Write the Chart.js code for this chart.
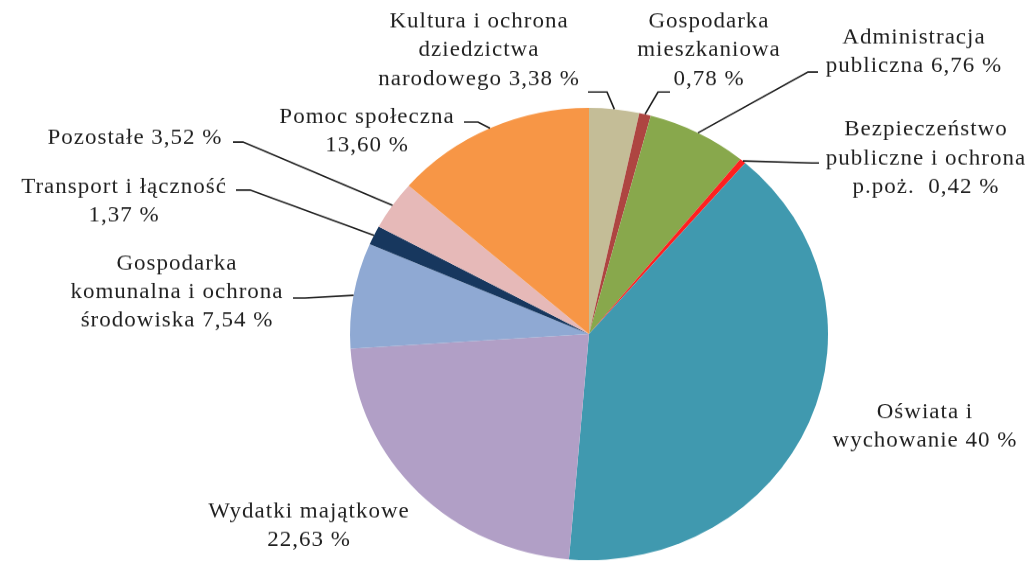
<!DOCTYPE html>
<html>
<head>
<meta charset="utf-8">
<script src="https://cdn.jsdelivr.net/npm/chart.js@4"></script>
<style>
    html, body { margin: 0; padding: 0; background: #ffffff; overflow: hidden; }
</style>
</head>
<body>
<canvas id="budget-chart" width="1034" height="594" style="display:block;width:1034px;height:562px"></canvas>
<script>
// Struktura wydatków budżetu (%)
var categories = [
    'Kultura i ochrona dziedzictwa narodowego',
    'Gospodarka mieszkaniowa',
    'Administracja publiczna',
    'Bezpieczeństwo publiczne i ochrona p.poż.',
    'Oświata i wychowanie',
    'Wydatki majątkowe',
    'Gospodarka komunalna i ochrona środowiska',
    'Transport i łączność',
    'Pozostałe',
    'Pomoc społeczna'
]
var shares = [3.38, 0.78, 6.76, 0.42, 40, 22.63, 7.54, 1.37, 3.52, 13.60]
var sliceColors = [
    '#C4BD97', '#AE4541', '#88A84C', '#FF2020', '#4099AF',
    '#B19FC6', '#8FA9D3', '#17375E', '#E6B9B8', '#F79646'
]
// label text as printed, line by line
var labelLines = [
    ['Kultura i ochrona', 'dziedzictwa', 'narodowego 3,38 %'],
    ['Gospodarka', 'mieszkaniowa', '0,78 %'],
    ['Administracja', 'publiczna 6,76 %'],
    ['Bezpieczeństwo', 'publiczne i ochrona', 'p.poż.  0,42 %'],
    ['Oświata i', 'wychowanie 40 %'],
    ['Wydatki majątkowe', '22,63 %'],
    ['Gospodarka', 'komunalna i ochrona', 'środowiska 7,54 %'],
    ['Transport i łączność', '1,37 %'],
    ['Pozostałe 3,52 %'],
    ['Pomoc społeczna', '13,60 %']
]

// the original picture is squashed vertically, so is ours
var SY = 0.946
var pieCx = 589, pieCy = 334 / SY, pieR = 239

// where each label sits (picture px) and where its leader starts / bends
var labelLayout = [
    { x: 479, y: 22,  tail: [588, 92],  knee: [607, 92] },
    { x: 709, y: 22,  tail: [670, 92],  knee: [658, 92] },
    { x: 914, y: 38,  tail: [818, 72],  knee: [808, 72] },
    { x: 926, y: 130, tail: [819, 163], knee: [812, 163] },
    { x: 925, y: 412 },
    { x: 309, y: 512 },
    { x: 177, y: 264, tail: [293, 298], knee: [305, 298] },
    { x: 124, y: 187, tail: [236, 190], knee: [250, 190] },
    { x: 135, y: 138, tail: [233, 142], knee: [243, 142] },
    { x: 367, y: 117, tail: [464, 122], knee: [478, 122] }
]

const pieLabels = {
    id: 'pieLabels',
    afterDatasetsDraw(chart) {
        const ctx = chart.ctx
        const meta = chart.getDatasetMeta(0)
        ctx.save()
        ctx.strokeStyle = '#1c1c1c'
        ctx.lineWidth = 1.6
        ctx.fillStyle = '#1f1f1f'
        ctx.font = '23px "Liberation Serif", "DejaVu Serif", serif'
        ctx.letterSpacing = '1px'
        ctx.textAlign = 'center'
        ctx.textBaseline = 'middle'
        const lineGap = 28.5 / SY

        labelLayout.forEach((lay, i) => {
            if (lay.tail) {
                const arc = meta.data[i].getProps(['x', 'y', 'startAngle', 'endAngle', 'outerRadius'])
                const mid = (arc.startAngle + arc.endAngle) / 2
                const ex = arc.x + Math.cos(mid) * arc.outerRadius
                const ey = arc.y + Math.sin(mid) * arc.outerRadius
                ctx.beginPath()
                ctx.moveTo(lay.tail[0], lay.tail[1] / SY)
                ctx.lineTo(lay.knee[0], lay.knee[1] / SY)
                ctx.lineTo(ex, ey)
                ctx.stroke()
            }
            labelLines[i].forEach((txt, k) => {
                ctx.fillText(txt, lay.x, lay.y / SY + k * lineGap)
            })
        })
        ctx.restore()
    }
}

var budgetChart
function setupChart() {
    const canvas = document.getElementById('budget-chart')
    const H = canvas.height
    budgetChart = new Chart(canvas.getContext('2d'), {
        type: 'pie',
        data: {
            labels: categories,
            datasets: [
                {
                    data: shares,
                    backgroundColor: sliceColors,
                    borderWidth: 0,
                    hoverOffset: 0
                }
            ]
        },
        options: {
            responsive: false,
            animation: false,
            events: [],
            layout: {
                padding: {
                    left: pieCx - pieR,
                    right: canvas.width - (pieCx + pieR),
                    top: pieCy - pieR,
                    bottom: H - (pieCy + pieR)
                }
            },
            plugins: {
                legend: { display: false },
                tooltip: { enabled: false }
            }
        },
        plugins: [pieLabels]
    })
}

setupChart()
</script>
</body>
</html>
